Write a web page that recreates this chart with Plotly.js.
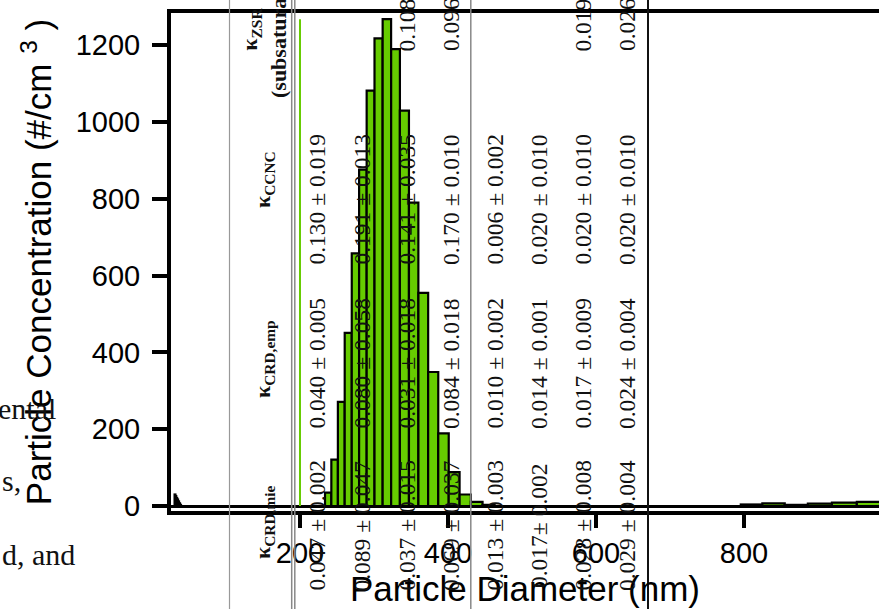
<!DOCTYPE html>
<html><head><meta charset="utf-8">
<script src="https://cdn.plot.ly/plotly-3.0.1.min.js"></script>
<style>html,body{margin:0;padding:0;overflow:hidden;background:#fff}#chart{width:879px;height:609px}</style>
</head><body><div id="chart"></div>
<script>
// Size distribution: bin mid-diameters (nm) and concentrations (#/cm3)
const diameters = [31.1, 32.2, 33.4, 34.6, 35.9, 37.2, 38.5,
  238.1, 246.8, 255.8, 265.2, 274.9, 285.0, 295.4, 306.2, 317.4, 329.1, 341.1, 353.6, 366.6, 380.0, 393.9, 408.3, 423.3, 438.8, 454.8,
  810.2, 839.9, 870.6, 902.5, 935.6, 969.9, 1005.4];
const concentrations = [30, 26, 21, 17, 12, 7, 3,
  35, 121, 271, 451, 658, 876, 1082, 1218, 1268, 1190, 1030, 790, 555, 349, 189, 88, 30, 11, 3,
  4, 7, 3, 6, 9, 11, 13];
const selectedDiameter = 200;
const xTicks = [200, 400, 600, 800];
const yTicks = [0, 200, 400, 600, 800, 1000, 1200];

// Overlaid table text
const headerMie = '<b>κ<sub>CRD,mie</sub></b>';
const headerEmp = '<b>κ<sub>CRD,emp</sub></b>';
const headerCCNC = '<b>κ<sub>CCNC</sub></b>';
const headerZSR = '<b>κ<sub>ZSR</sub><br>(subsaturated)</b>';
const kappaMie = ['0.047 ± 0.002', '0.089 ± 0.047', '0.037 ± 0.015', '0.069 ± 0.037', '0.013 ± 0.003', '0.017± 0.002', '0.028 ± 0.008', '0.029 ± 0.004'];
const kappaEmp = ['0.040 ± 0.005', '0.080 ± 0.058', '0.031 ± 0.018', '0.084 ± 0.018', '0.010 ± 0.002', '0.014 ± 0.001', '0.017 ± 0.009', '0.024 ± 0.004'];
const kappaCCNC = ['0.130 ± 0.019', '0.191 ± 0.013', '0.141 ± 0.035', '0.170 ± 0.010', '0.006 ± 0.002', '0.020 ± 0.010', '0.020 ± 0.010', '0.020 ± 0.010'];
const kappaZSR = ['', '', '0.108', '0.096', '', '', '0.019', '0.026'];
const sideText = ['ental', 's,', 'd, and'];

// ---- layout geometry (pixels) ----
const L = 171, T = 13, W = 708, H = 498;
const px = p => (p - L) / W;
const py = p => (T + H - p) / H;
const colX = [316.5, 361.5, 406.5, 451, 494.5, 539, 582.5, 627];
const headX = 264;
const serif = 'Liberation Serif, Times New Roman, serif';
const sans = 'Liberation Sans, Arial, sans-serif';

const annotations = [];
function rot(text, xp, yp, size) {
  annotations.push({text: text, xref: 'paper', yref: 'paper', x: px(xp), y: py(yp),
    xanchor: 'center', yanchor: 'middle', textangle: -90, showarrow: false,
    font: {family: serif, size: size || 23.5, color: '#111'}});
}
rot(headerMie, headX, 522, 22);
rot(headerEmp, headX, 359, 22);
rot(headerCCNC, headX, 180, 22);
rot(headerZSR, headX, 30, 22);
kappaMie.forEach((t, i) => rot(t, colX[i], 526));
kappaEmp.forEach((t, i) => rot(t, colX[i], 364));
kappaCCNC.forEach((t, i) => rot(t, colX[i], 200));
kappaZSR.forEach((t, i) => { if (t) rot(t, colX[i], 25); });

const sidePos = [[-4, 408], [0, 480], [0, 554]];
sideText.forEach((t, i) => annotations.push({text: t, xref: 'paper', yref: 'paper',
  x: px(sidePos[i][0]), y: py(sidePos[i][1]), xanchor: 'left', yanchor: 'middle', showarrow: false,
  font: {family: serif, size: 30, color: '#111'}}));

const vlines = [
  {x: 229.5, c: '#999', w: 1.2},
  {x: 291.7, c: '#888', w: 1.5},
  {x: 294.8, c: '#888', w: 1.5},
  {x: 470.8, c: '#888', w: 1.5},
  {x: 648, c: '#111', w: 2}
];
const shapes = vlines.map(v => ({type: 'line', xref: 'paper', yref: 'paper',
  x0: px(v.x), x1: px(v.x), y0: py(609), y1: py(0), line: {color: v.c, width: v.w}, layer: 'above'}));
shapes.push({type: 'line', xref: 'x', yref: 'y', x0: selectedDiameter, x1: selectedDiameter,
  y0: 0, y1: Math.max(...concentrations), line: {color: '#66cc00', width: 2}, layer: 'above'});

const binRatio = Math.pow(10, 1 / 64);
const widths = diameters.map(d => d * (Math.sqrt(binRatio) - 1 / Math.sqrt(binRatio)));

const trace = {type: 'bar', x: diameters, y: concentrations, width: widths,
  marker: {color: '#66cc00', line: {color: '#000', width: 2.2}}, hoverinfo: 'skip'};

const layout = {
  width: 879, height: 609,
  margin: {l: L, r: 0, t: T, b: 609 - T - H, pad: 0},
  paper_bgcolor: '#fff', plot_bgcolor: '#fff',
  showlegend: false, bargap: 0,
  xaxis: {range: [25.7, 982.4], tickvals: xTicks, ticktext: xTicks.map(String),
    ticks: 'outside', ticklen: 13, tickwidth: 4, tickcolor: '#000',
    showline: true, linewidth: 4, linecolor: '#000', mirror: true,
    showgrid: false, zeroline: false,
    tickfont: {family: sans, size: 29, color: '#000'},
    title: {text: 'Particle Diameter (nm)', font: {family: sans, size: 35, color: '#000'}, standoff: 2}},
  yaxis: {range: [-13, 1284], tickvals: yTicks, ticktext: yTicks.map(String),
    ticks: 'outside', ticklen: 15, tickwidth: 4, tickcolor: '#000',
    showline: true, linewidth: 4, linecolor: '#000', mirror: false,
    showgrid: false, zeroline: true, zerolinecolor: '#000', zerolinewidth: 3,
    ticklabelstandoff: 6,
    tickfont: {family: sans, size: 29, color: '#000'},
    title: {text: 'Particle Concentration (#/cm <sup>3</sup> )', font: {family: sans, size: 35, color: '#000'}, standoff: 14}},
  annotations: annotations,
  shapes: shapes
};

Plotly.newPlot('chart', [trace], layout, {staticPlot: true, displayModeBar: false});
</script>
</body></html>
